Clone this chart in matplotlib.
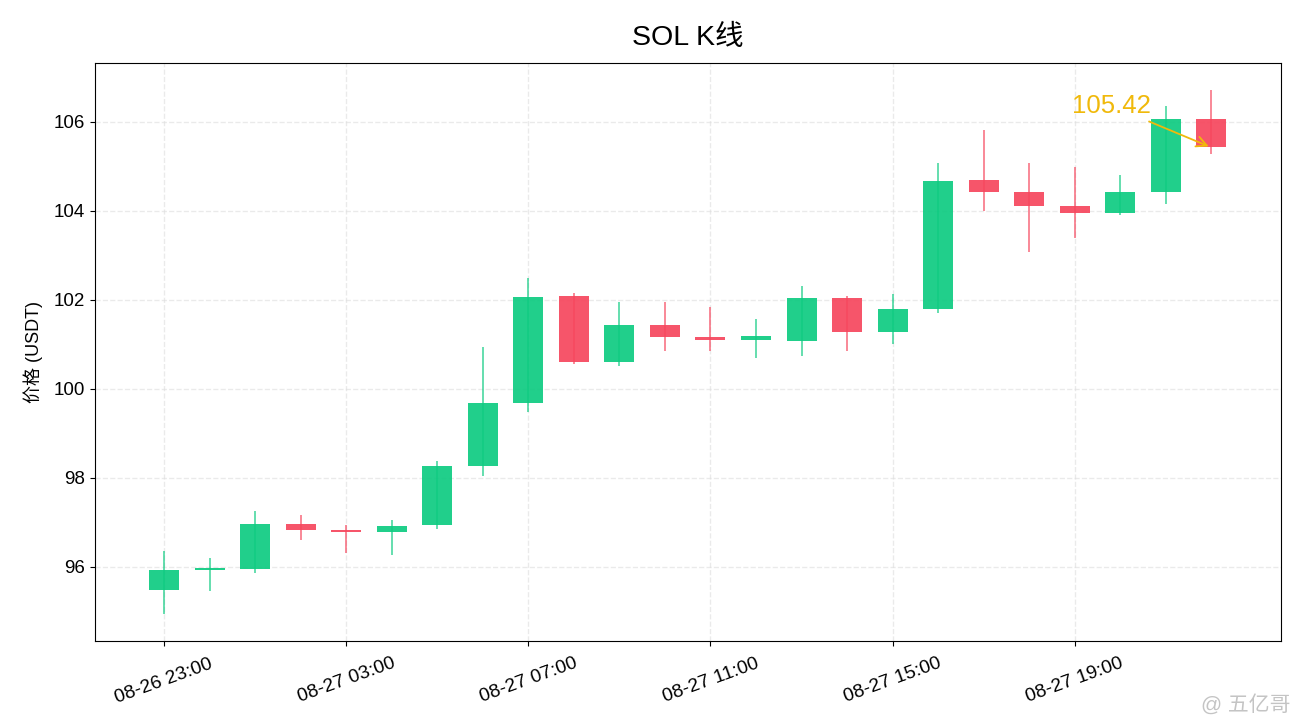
import matplotlib
matplotlib.use("Agg")
import matplotlib.pyplot as plt
import numpy as np

plt.rcParams['font.family'] = ['Liberation Sans', 'Noto Sans CJK SC', 'DejaVu Sans']

times = ["08-26 23:00", "08-27 00:00", "08-27 01:00", "08-27 02:00", "08-27 03:00",
         "08-27 04:00", "08-27 05:00", "08-27 06:00", "08-27 07:00", "08-27 08:00",
         "08-27 09:00", "08-27 10:00", "08-27 11:00", "08-27 12:00", "08-27 13:00",
         "08-27 14:00", "08-27 15:00", "08-27 16:00", "08-27 17:00", "08-27 18:00",
         "08-27 19:00", "08-27 20:00", "08-27 21:00", "08-27 22:00"]
opens = [95.47, 95.93, 95.94, 96.96, 96.82, 96.78, 96.94, 98.26, 99.69, 102.08,
         100.59, 101.44, 101.17, 101.09, 101.08, 102.04, 101.28, 101.80, 104.68, 104.41,
         104.10, 103.95, 104.43, 106.06]
closes = [95.93, 95.95, 96.96, 96.83, 96.78, 96.92, 98.26, 99.69, 102.06, 100.59,
          101.44, 101.17, 101.09, 101.19, 102.04, 101.28, 101.79, 104.66, 104.41, 104.10,
          103.95, 104.43, 106.07, 105.42]
highs = [96.36, 96.20, 97.25, 97.16, 96.94, 97.05, 98.37, 100.94, 102.49, 102.15,
         101.95, 101.95, 101.84, 101.57, 102.31, 102.08, 102.13, 105.08, 105.82, 105.06,
         104.99, 104.79, 106.34, 106.72]
lows = [94.93, 95.45, 95.85, 96.61, 96.32, 96.27, 96.85, 98.04, 99.47, 100.56,
        100.50, 100.85, 100.85, 100.68, 100.74, 100.85, 101.01, 101.70, 103.99, 103.07,
        103.38, 103.90, 104.14, 105.28]

UP = '#0ecb81'
DOWN = '#f6465d'

fig, ax = plt.subplots(figsize=(13, 7.28), dpi=100)
fig.subplots_adjust(left=0.073, right=0.985, top=0.913, bottom=0.12)

x = np.arange(len(times))
width = 0.66
for i in x:
    o, c, h, l = opens[i], closes[i], highs[i], lows[i]
    col = UP if c >= o else DOWN
    ax.vlines(i, l, h, color=col, linewidth=1.2, alpha=0.75, zorder=2)
    bottom = min(o, c)
    height = max(abs(c - o), 0.04)
    ax.bar(i, height, width=width, bottom=bottom, color=col, alpha=0.92,
           linewidth=0, zorder=3)

ax.set_xlim(-1.52, len(times) - 1 + 1.52)
ax.margins(y=0.05)
tick_idx = list(range(0, len(times), 4))
ax.set_xticks(tick_idx)
ax.set_xticklabels([times[i] for i in tick_idx], rotation=20, fontsize=13.8)
ax.tick_params(axis='x', pad=7)
ax.tick_params(axis='y', labelsize=13.5)
ax.grid(True, linestyle='--', color='#dddddd', alpha=0.6, linewidth=1)
ax.set_axisbelow(True)

ax.set_title("SOL K线", fontsize=20.5, pad=13)
ax.set_ylabel("价格 (USDT)", fontsize=13, labelpad=8)

last = len(times) - 1
ax.annotate(f"{closes[last]:.2f}", xy=(last, closes[last]),
            xytext=(last - 2.2, closes[last] + 0.94),
            color='#f0b90b', fontsize=18.5, ha='center', va='center',
            arrowprops=dict(arrowstyle='->', color='#f0b90b', lw=1.3))

fig.text(0.993, 0.018, "@ 五亿哥", ha='right', va='bottom', fontsize=15,
         color='#c4c4c4')

fig.savefig("out.png", dpi=100)
